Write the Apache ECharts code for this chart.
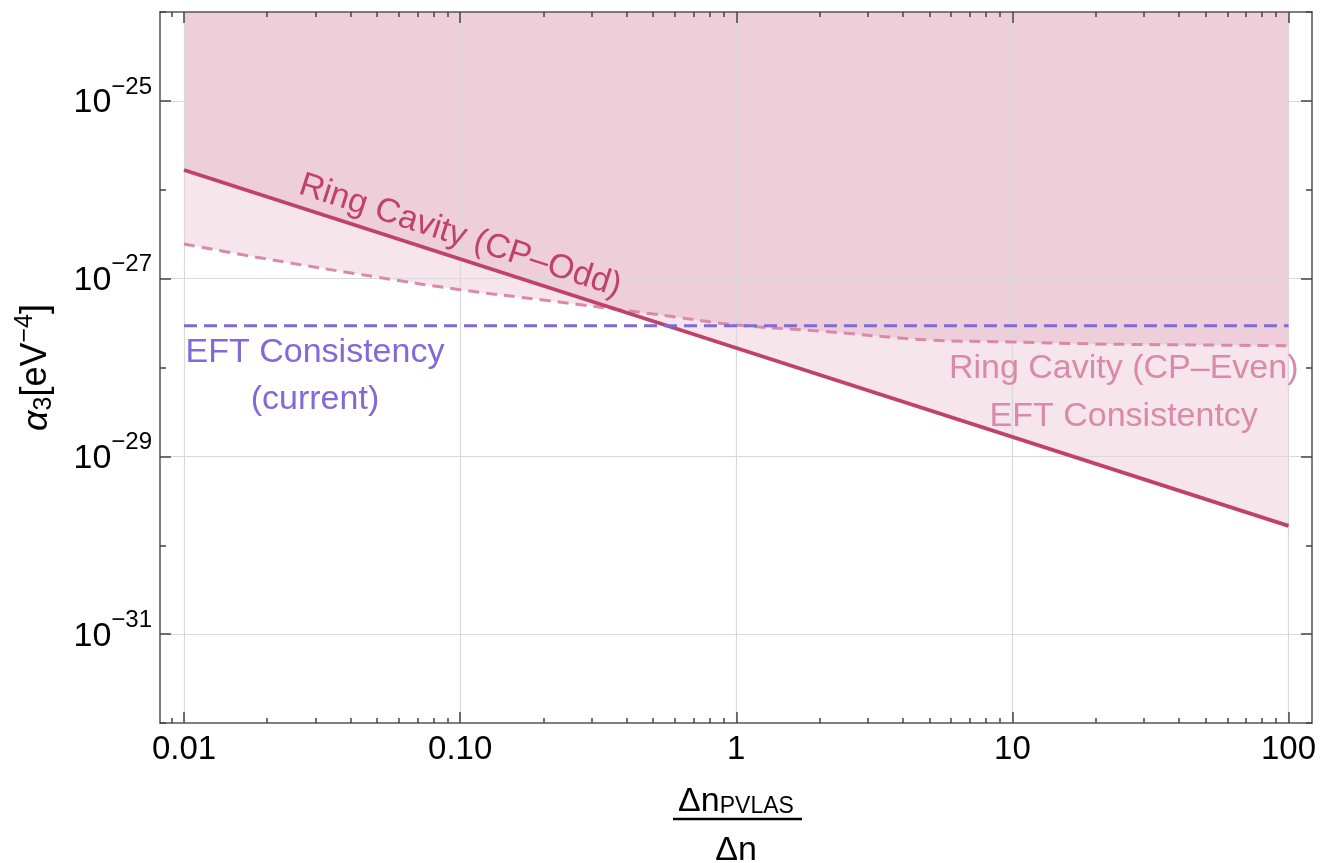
<!DOCTYPE html>
<html>
<head>
<meta charset="utf-8">
<title>Ring cavity bounds on alpha3</title>
<script src="https://cdn.jsdelivr.net/npm/echarts@6/dist/echarts.min.js"></script>
<style>
html, body { margin: 0; padding: 0; background: #fff; }
#main { width: 1334px; height: 863px; }
</style>
</head>
<body>
<div id="main"></div>
<script>
// x = Δn_PVLAS / Δn , y = α3 in eV^-4 (both drawn on log10 scales)
const xTickValues = [0.01, 0.1, 1, 10, 100];
const xTickLabels = ['0.01', '0.10', '1', '10', '100'];
const yTickExps = [-31, -29, -27, -25];
const yMinorExps = [-32, -30, -28, -26, -24];

// Ring Cavity (CP-Odd)
const oddX = [0.01, 1, 100];
const oddY = [1.67e-26, 1.66e-28, 1.65e-30];

// Ring Cavity (CP-Even) EFT consistency
const evenX = [0.01, 0.02, 0.05, 0.1, 0.2, 0.5, 1, 2, 5, 10, 20, 50, 100];
const evenY = [2.45e-27, 1.66e-27, 1.04e-27, 7.5e-28, 5.74e-28, 4.0e-28, 3.01e-28,
               2.57e-28, 2.04e-28, 1.94e-28, 1.84e-28, 1.79e-28, 1.76e-28];

// EFT Consistency (current)
const eftX = [0.01, 100];
const eftY = [2.95e-28, 2.95e-28];

const FONT = "'Liberation Sans', Arial, Helvetica, sans-serif";
const L = Math.log10;
const XMIN = -2.087, XMAX = 2.085, YMIN = -32, YMAX = -24;

// minor ticks at 2..9 x each decade
const xMinor = [];
[0.001, 0.01, 0.1, 1, 10].forEach(function (d) {
  for (let k = 2; k <= 9; k++) {
    const v = L(k * d);
    if (v > XMIN && v < XMAX) xMinor.push(v);
  }
});

function pts(xs, ys) {
  return xs.map(function (x, i) { return [L(x), L(ys[i])]; });
}

function xAxisDef(pos, ticks, len, labels, line) {
  return {
    type: 'value', position: pos, min: XMIN, max: XMAX, z: 3,
    axisLine: { show: line, onZero: false, lineStyle: { color: '#555', width: 1.5 } },
    axisTick: { show: true, inside: true, length: len, customValues: ticks,
                lineStyle: { color: '#444', width: 1.5 } },
    axisLabel: labels ? {
      show: true, customValues: ticks, margin: 10,
      fontSize: 33, fontFamily: FONT, color: '#000',
      formatter: function (v) {
        for (let i = 0; i < xTickValues.length; i++) {
          if (Math.abs(L(xTickValues[i]) - v) < 1e-6) return xTickLabels[i];
        }
        return '';
      }
    } : { show: false },
    splitLine: { show: labels, lineStyle: { color: '#d9d9d9', width: 1.2 } }
  };
}

function yAxisDef(pos, ticks, len, labels, line) {
  const ax = {
    type: 'value', position: pos, min: YMIN, max: YMAX, z: 3,
    axisLine: { show: line, onZero: false, lineStyle: { color: '#555', width: 1.5 } },
    axisTick: { show: true, inside: true, length: len, customValues: ticks,
                lineStyle: { color: '#444', width: 1.5 } },
    axisLabel: labels ? {
      show: true, customValues: ticks, margin: 8,
      fontFamily: FONT, color: '#000',
      formatter: function (v) {
        return '{b|10}{s|\u2212' + Math.abs(Math.round(v)) + '}';
      },
      rich: {
        b: { fontSize: 34, fontFamily: FONT, color: '#000', padding: [4, 0, 0, 0] },
        s: { fontSize: 24, fontFamily: FONT, color: '#000', padding: [0, 0, 28, 0] }
      }
    } : { show: false },
    splitLine: { show: labels, lineStyle: { color: '#d9d9d9', width: 1.2 } }
  };
  if (labels) {
    ax.name = '{a|\u03b1}{sub|3}{b|[eV}{sup|\u22124}{b|]}';
    ax.nameLocation = 'middle';
    ax.nameRotate = 90;
    ax.nameGap = 100;
    ax.nameTextStyle = {
      fontFamily: FONT, color: '#000',
      rich: {
        a: { fontSize: 36, fontStyle: 'italic', fontFamily: FONT, color: '#000' },
        sub: { fontSize: 25, fontFamily: FONT, color: '#000', padding: [15, 0, 0, 0] },
        b: { fontSize: 36, fontFamily: FONT, color: '#000' },
        sup: { fontSize: 25, fontFamily: FONT, color: '#000', padding: [0, 0, 22, 0] }
      }
    };
  }
  return ax;
}

const xMajor = xTickValues.map(L);
const fillColor = 'rgba(188,62,106,0.19)';

const chart = echarts.init(document.getElementById('main'));
const option = {
  animation: false,
  backgroundColor: '#fff',
  textStyle: { fontFamily: FONT },
  grid: { left: 160, top: 12, right: 22, bottom: 140, outerBoundsMode: 'none' },
  xAxis: [
    xAxisDef('bottom', xMajor, 11, true, true),
    xAxisDef('bottom', xMinor, 5, false, false),
    xAxisDef('top', xMajor, 11, false, true),
    xAxisDef('top', xMinor, 5, false, false)
  ],
  yAxis: [
    yAxisDef('left', yTickExps, 11, true, true),
    yAxisDef('left', yMinorExps, 6, false, false),
    yAxisDef('right', yTickExps, 11, false, true),
    yAxisDef('right', yMinorExps, 6, false, false)
  ],
  series: [
    {
      name: 'even fill', type: 'line', data: pts(evenX, evenY),
      smooth: 0.4, symbol: 'none', silent: true, z: 1,
      lineStyle: { width: 0 },
      areaStyle: { origin: 'end', color: fillColor }
    },
    {
      name: 'odd fill', type: 'line', data: pts(oddX, oddY),
      symbol: 'none', silent: true, z: 1,
      lineStyle: { width: 0 },
      areaStyle: { origin: 'end', color: fillColor }
    },
    {
      name: 'Ring Cavity (CP-Even)', type: 'line', data: pts(evenX, evenY),
      smooth: 0.4, symbol: 'none', z: 4,
      lineStyle: { color: '#d98aaa', width: 3, type: [11, 7] },
      markPoint: {
        symbol: 'circle', symbolSize: 0, silent: true,
        data: [{
          coord: [L(25.3), L(5.16e-29)],
          label: {
            show: true, position: 'inside',
            formatter: 'Ring Cavity (CP\u2013Even)\nEFT Consistentcy',
            fontSize: 34, lineHeight: 48, fontFamily: FONT, color: '#d98aaa', align: 'center'
          }
        }]
      }
    },
    {
      name: 'Ring Cavity (CP-Odd)', type: 'line', data: pts(oddX, oddY),
      symbol: 'none', z: 5,
      lineStyle: { color: '#c0426a', width: 3.8 },
      markPoint: {
        symbol: 'circle', symbolSize: 0, silent: true,
        data: [{
          coord: [L(0.1), L(3.02e-27)],
          label: {
            show: true, position: 'inside', rotate: -17.9,
            formatter: 'Ring Cavity (CP\u2013Odd)',
            fontSize: 34, fontFamily: FONT, color: '#c0426a'
          }
        }]
      }
    },
    {
      name: 'EFT Consistency (current)', type: 'line', data: pts(eftX, eftY),
      symbol: 'none', z: 5,
      lineStyle: { color: '#7f6ad8', width: 3, type: [13, 7] },
      markPoint: {
        symbol: 'circle', symbolSize: 0, silent: true,
        data: [{
          coord: [L(0.0298), L(8.0e-29)],
          label: {
            show: true, position: 'inside',
            formatter: 'EFT Consistency\n(current)',
            fontSize: 34, lineHeight: 47, fontFamily: FONT, color: '#7f6ad8', align: 'center'
          }
        }]
      }
    }
  ],
  graphic: [
    {
      type: 'text', x: 736, y: 802, z: 10,
      style: {
        text: '{a|\u0394n}{s|PVLAS}', align: 'center', verticalAlign: 'middle',
        textAlign: 'center', textVerticalAlign: 'middle',
        rich: {
          a: { fontSize: 34, fontFamily: FONT, fill: '#000' },
          s: { fontSize: 23, fontFamily: FONT, fill: '#000', padding: [10, 0, 0, 0] }
        }
      }
    },
    {
      type: 'line', z: 10,
      shape: { x1: 673, y1: 819, x2: 802, y2: 819 },
      style: { stroke: '#000', lineWidth: 2.5 }
    },
    {
      type: 'text', x: 736, y: 851, z: 10,
      style: {
        text: '\u0394n', fontSize: 34, fontFamily: FONT, fill: '#000',
        align: 'center', verticalAlign: 'middle',
        textAlign: 'center', textVerticalAlign: 'middle'
      }
    }
  ]
};
chart.setOption(option);
</script>
</body>
</html>
